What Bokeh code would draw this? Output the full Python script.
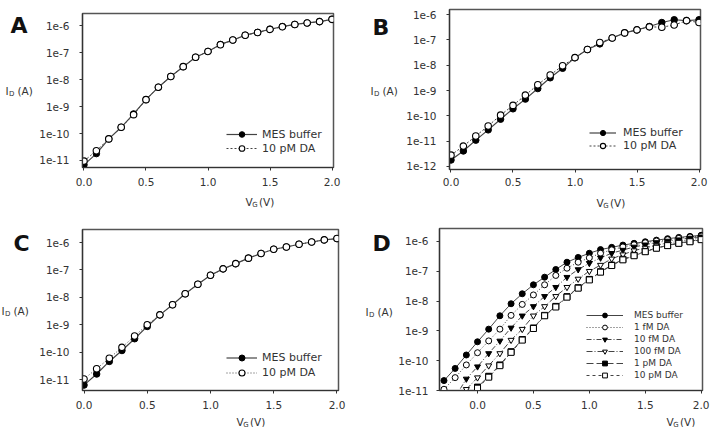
import numpy as np
from bokeh.plotting import figure
from bokeh.layouts import column, row
from bokeh.models import (Range1d, FixedTicker, CustomJSTickFormatter,
                          NumeralTickFormatter, Label)
from bokeh.embed import file_html
from bokeh.resources import INLINE

FONT = "DejaVu Sans"
nan = float("nan")

# ---------------- data ----------------
vg = [0.0, 0.1, 0.2, 0.3, 0.4, 0.5, 0.6, 0.7, 0.8, 0.9, 1.0,
      1.1, 1.2, 1.3, 1.4, 1.5, 1.6, 1.7, 1.8, 1.9, 2.0]
vg_d = [-0.3, -0.2, -0.1] + vg

a_mes = [6.9e-12, 1.8e-11, 6.3e-11, 1.7e-10, 5.3e-10, 1.8e-9, 5.2e-9, 1.3e-8, 3.0e-8, 6.7e-8, 1.1e-7,
         2.0e-7, 2.9e-7, 4.4e-7, 5.6e-7, 7.3e-7, 9.2e-7, 1.1e-6, 1.25e-6, 1.4e-6, 1.7e-6]
a_da = [9.5e-12, 2.3e-11, 6.3e-11, 1.7e-10, 5.0e-10, 1.8e-9, 5.2e-9, 1.3e-8, 3.0e-8, 6.7e-8, 1.1e-7,
        1.95e-7, 2.9e-7, 4.4e-7, 5.5e-7, 7.2e-7, 9.0e-7, 1.1e-6, 1.25e-6, 1.4e-6, 1.7e-6]

b_mes = [1.8e-12, 4.1e-12, 1.1e-11, 2.8e-11, 7.4e-11, 1.9e-10, 4.6e-10, 1.2e-9, 3.2e-9, 7.6e-9, 2.0e-8,
         4.2e-8, 7.0e-8, 1.2e-7, 1.9e-7, 2.5e-7, 3.4e-7, 4.9e-7, 6.3e-7, 5.8e-7, 6.3e-7]
b_da = [2.8e-12, 6.4e-12, 1.6e-11, 4.0e-11, 1.07e-10, 2.6e-10, 6.6e-10, 1.7e-9, 4.1e-9, 9.6e-9, 2.0e-8,
        4.2e-8, 7.9e-8, 1.2e-7, 1.9e-7, 2.5e-7, 3.3e-7, 3.2e-7, 3.9e-7, 5.8e-7, 4.9e-7]

c_mes = [6.3e-12, 1.6e-11, 4.6e-11, 1.15e-10, 3.1e-10, 8.7e-10, 2.3e-9, 5.4e-9, 1.35e-8, 3.0e-8, 6.4e-8,
         1.1e-7, 1.7e-7, 2.7e-7, 4.0e-7, 5.7e-7, 6.9e-7, 8.7e-7, 1.05e-6, 1.25e-6, 1.4e-6]
c_da = [1.05e-11, 2.5e-11, 6.0e-11, 1.5e-10, 3.9e-10, 1.0e-9, 2.3e-9, 5.4e-9, 1.35e-8, 3.0e-8, 6.4e-8,
        1.1e-7, 1.7e-7, 2.7e-7, 4.0e-7, 5.7e-7, 6.9e-7, 8.7e-7, 1.05e-6, 1.25e-6, 1.4e-6]

d_mes = [2.15e-11, 5.5e-11, 1.55e-10, 4.3e-10, 1.14e-9, 3.2e-9, 8.1e-9, 1.75e-8, 3.5e-8, 6.3e-8, 1.14e-7, 2.0e-7,
         2.9e-7, 4.0e-7, 5.3e-7, 6.3e-7, 7.5e-7, 8.6e-7, 9.7e-7, 1.1e-6, 1.23e-6, 1.36e-6, 1.47e-6, 1.6e-6]
d_1fm = [1.1e-11, 2.7e-11, 7.2e-11, 1.85e-10, 4.6e-10, 1.14e-9, 3.3e-9, 7.7e-9, 1.6e-8, 3.5e-8, 7.2e-8, 1.26e-7,
         2.0e-7, 2.8e-7, 4.0e-7, 5.2e-7, 6.5e-7, 7.7e-7, 9.0e-7, 1.03e-6, 1.14e-6, 1.26e-6, 1.4e-6, 1.5e-6]
d_10fm = [nan, 6.0e-12, 2.45e-11, 6.3e-11, 1.75e-10, 4.6e-10, 1.26e-9, 3.2e-9, 6.6e-9, 1.44e-8, 2.9e-8, 6.3e-8,
          1.14e-7, 1.85e-7, 2.8e-7, 4.0e-7, 5.1e-7, 6.5e-7, 7.7e-7, 9.2e-7, 1.03e-6, 1.14e-6, 1.3e-6, 1.43e-6]
d_100fm = [nan, nan, 1.1e-11, 2.7e-11, 6.8e-11, 1.75e-10, 4.9e-10, 1.14e-9, 3.2e-9, 6.6e-9, 1.44e-8, 2.9e-8,
           5.5e-8, 1.0e-7, 1.6e-7, 2.6e-7, 3.6e-7, 4.9e-7, 6.0e-7, 7.5e-7, 8.8e-7, 1.0e-6, 1.14e-6, 1.3e-6]
d_1pm = [nan, nan, 5.0e-12, 1.3e-11, 3.0e-11, 7.2e-11, 2.0e-10, 5.1e-10, 1.25e-9, 3.3e-9, 6.6e-9, 1.4e-8,
         2.8e-8, 5.3e-8, 9.6e-8, 1.6e-7, 2.5e-7, 3.4e-7, 4.6e-7, 6.0e-7, 7.4e-7, 8.8e-7, 1.0e-6, 1.17e-6]
d_10pm = [nan, nan, 4.5e-12, 1.2e-11, 2.8e-11, 6.8e-11, 1.9e-10, 4.9e-10, 1.2e-9, 3.2e-9, 6.3e-9, 1.35e-8,
          2.7e-8, 5.1e-8, 9.3e-8, 1.55e-7, 2.4e-7, 3.3e-7, 4.5e-7, 5.9e-7, 7.2e-7, 8.6e-7, 9.7e-7, 1.14e-6]

x_ticks = [0.0, 0.5, 1.0, 1.5, 2.0]
y_ticks_5 = [1e-11, 1e-10, 1e-9, 1e-8, 1e-7, 1e-6]
y_ticks_6 = [1e-12, 1e-11, 1e-10, 1e-9, 1e-8, 1e-7, 1e-6]

labels_two = ["MES buffer", "10 pM DA"]
labels_d = ["MES buffer", "1 fM DA", "10 fM DA", "100 fM DA", "1 pM DA", "10 pM DA"]

TXT = "#333333"
LINE = "#444444"


def make_panel(width, height, left, right, top, bottom, xr, yr, yticks, xstand=7, ystand=10):
    p = figure(width=width, height=height, x_range=Range1d(*xr), y_range=Range1d(*yr),
               y_axis_type="log", output_backend="svg", toolbar_location=None,
               min_border_left=left, min_border_right=right,
               min_border_top=top, min_border_bottom=bottom)
    p.xgrid.visible = False
    p.ygrid.visible = False
    p.background_fill_color = "white"
    p.border_fill_color = "white"
    p.outline_line_color = "#555555"
    p.outline_line_width = 1.5
    p.xaxis.ticker = FixedTicker(ticks=x_ticks)
    p.xaxis.formatter = NumeralTickFormatter(format="0.0")
    p.yaxis.ticker = FixedTicker(ticks=yticks)
    p.yaxis.formatter = CustomJSTickFormatter(code="return '1e' + Math.round(Math.log10(tick));")
    for ax in (p.xaxis, p.yaxis):
        ax.major_tick_out = 3
        ax.major_tick_in = 0
        ax.minor_tick_out = 0
        ax.minor_tick_in = 0
        ax.axis_line_color = "#333333"
        ax.axis_line_width = 1.2
        ax.major_tick_line_color = "#333333"
        ax.major_label_text_font = FONT
        ax.major_label_text_font_size = "10.5px"
        ax.major_label_text_color = TXT
    p.xaxis.major_label_standoff = xstand
    p.yaxis.major_label_standoff = ystand
    return p


def strip(width, height):
    s = figure(width=width, height=height, x_range=Range1d(0, 1), y_range=Range1d(0, 1),
               x_axis_location=None, y_axis_location=None, output_backend="svg",
               toolbar_location=None, min_border=0)
    s.xgrid.visible = False
    s.ygrid.visible = False
    s.outline_line_color = None
    s.background_fill_color = "white"
    s.border_fill_color = "white"
    return s


def text(p, t, x, y, size, bold=False):
    p.add_layout(Label(x=x, y=y, x_units="screen", y_units="screen", text=t,
                       text_font=FONT, text_font_size=f"{size}px",
                       text_font_style="bold" if bold else "normal",
                       text_color="#111111" if bold else TXT,
                       text_align="left", text_baseline="middle"))


def left_titles(s, letter, lx, ly, ix, iy):
    text(s, letter, lx, ly, 22, bold=True)
    text(s, "I", ix, iy, 10.5)
    text(s, "D", ix + 3.5, iy - 3, 7)
    text(s, "(A)", ix + 12, iy, 10.5)


def bottom_title(s, vx, vy):
    text(s, "V", vx, vy, 10.5)
    text(s, "G", vx + 6.8, vy - 3, 7)
    text(s, "(V)", vx + 13.5, vy, 10.5)


def style_legend(p, loc, glyph_w, glyph_h, fsize, standoff):
    lg = p.legend[0]
    lg.location = loc
    lg.background_fill_alpha = 0
    lg.border_line_alpha = 0
    lg.padding = 0
    lg.margin = 0
    lg.spacing = 0
    lg.glyph_width = glyph_w
    lg.glyph_height = glyph_h
    lg.label_height = glyph_h
    lg.label_standoff = standoff
    lg.label_text_font = FONT
    lg.label_text_font_size = f"{fsize}px"
    lg.label_text_color = TXT


def two_series(p, mes, da, da_dash, msize=6.5):
    p.line(vg, mes, line_color=LINE, line_width=1.2, legend_label=labels_two[0])
    p.scatter(vg, mes, marker="circle", size=msize, fill_color="black", line_color="black",
              legend_label=labels_two[0])
    p.line(vg, da, line_color=LINE, line_width=1, line_dash=da_dash, legend_label=labels_two[1])
    p.scatter(vg, da, marker="circle", size=msize, fill_color="white", line_color="black",
              line_width=1.1, legend_label=labels_two[1])


# ---------- Panel A (0..355 x 0..213) ----------
sA_l = strip(36, 213)
left_titles(sA_l, "A", 10, 188, 5, 123)
pA = make_panel(319, 192, 44, 22, 13, 25, (-0.012, 2.012), (5.5e-12, 2.8e-6), y_ticks_5)
two_series(pA, a_mes, a_da, "2 2")
style_legend(pA, (144, 12), 31, 14, 11, 5)
sA_b = strip(319, 21)
bottom_title(sA_b, 163, 12)
panelA = row(sA_l, column(pA, sA_b))

# ---------- Panel B (355..711 x 0..213) ----------
sB_l = strip(48, 213)
left_titles(sB_l, "B", 17, 186, 15, 123)
pB = make_panel(308, 192, 44, 11, 9, 23, (-0.012, 2.012), (7.6e-13, 1.6e-6), y_ticks_6, xstand=5)
two_series(pB, b_mes, b_da, "2 2")
style_legend(pB, (140, 17), 27, 13, 11, 7)
sB_b = strip(308, 21)
bottom_title(sB_b, 147, 11)
panelB = row(sB_l, column(pB, sB_b))

# ---------- Panel C (0..355 x 213..427) ----------
sC_l = strip(36, 214)
left_titles(sC_l, "C", 13, 184, 1, 117)
pC = make_panel(319, 200, 44, 17, 16, 23, (-0.012, 2.012), (4e-12, 3e-6), y_ticks_5)
two_series(pC, c_mes, c_da, "1 2")
style_legend(pC, (144, 10), 31, 15, 11, 5)
sC_b = strip(319, 14)
bottom_title(sC_b, 154, 6)
panelC = row(sC_l, column(pC, sC_b))

# ---------- Panel D (355..711 x 213..427) ----------
sD_l = strip(40, 214)
left_titles(sD_l, "D", 17, 184, 10, 116)
pD = make_panel(316, 200, 43, 9, 15, 23, (-0.34, 2.012), (1e-11, 2.7e-6), y_ticks_5, ystand=8)
d_series = [d_mes, d_1fm, d_10fm, d_100fm, d_1pm, d_10pm]
d_markers = ["circle", "circle", "inverted_triangle", "inverted_triangle", "square", "square"]
d_fills = ["black", "white", "black", "white", "black", "white"]
d_dashes = ["solid", "1 2", "5 2 1 2", "6 2 1 2", "7 3", "3 3"]
for ys, mk, fc, dash, lab in zip(d_series, d_markers, d_fills, d_dashes, labels_d):
    yarr = np.array(ys, dtype=float)
    pD.line(vg_d, yarr, line_color=LINE, line_width=1, line_dash=dash, legend_label=lab)
    pD.scatter(vg_d, yarr, marker=mk, size=6, fill_color=fc, line_color="black",
               line_width=1, legend_label=lab)
style_legend(pD, (147, 9), 37, 12, 9, 11)
sD_b = strip(316, 14)
bottom_title(sD_b, 227, 6)
panelD = row(sD_l, column(pD, sD_b))

layout = column(row(panelA, panelB), row(panelC, panelD))
open("out.html", "w").write(file_html(layout, INLINE))
